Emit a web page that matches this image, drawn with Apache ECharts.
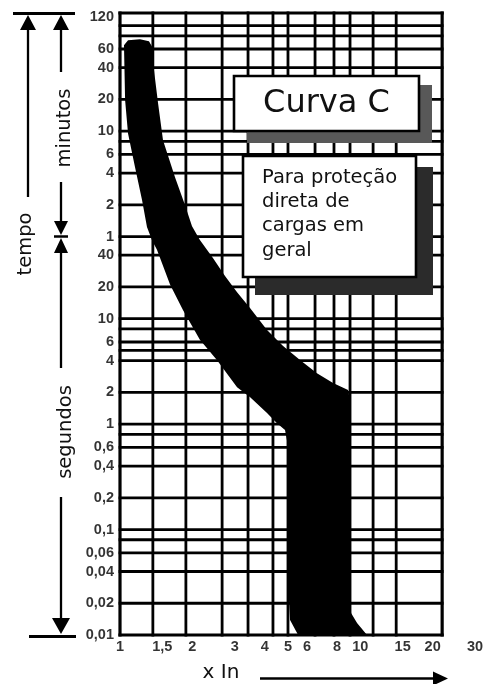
<!DOCTYPE html>
<html>
<head>
<meta charset="utf-8">
<script src="https://cdn.jsdelivr.net/npm/echarts@6.0.0/dist/echarts.min.js"></script>
<style>
  html, body { margin: 0; padding: 0; background: #fff; }
  #chart { width: 488px; height: 684px; }
</style>
</head>
<body>
<div id="chart"></div>
<script>
const FONT = 'DejaVu Sans';
const TICK_FONT = 'Liberation Sans';

// Current as multiple of rated current (x In), labelled under the grid
const xTickValues = [1, 1.5, 2, 3, 4, 5, 6, 8, 10, 15, 20, 30];
const xTickLabels = ['1', '1,5', '2', '3', '4', '5', '6', '8', '10', '15', '20', '30'];

// Time ticks in seconds; values from 60 s upward are written in minutes
const yTickValues = [7200, 3600, 2400, 1200, 600, 360, 240, 120, 60, 40, 20, 10, 6, 4, 2, 1,
                     0.6, 0.4, 0.2, 0.1, 0.06, 0.04, 0.02, 0.01];
const yTickLabels = ['120', '60', '40', '20', '10', '6', '4', '2', '1', '40', '20', '10', '6', '4', '2', '1',
                     '0,6', '0,4', '0,2', '0,1', '0,06', '0,04', '0,02', '0,01'];

// Rulings of the chart paper
const gridXValues = [1, 1.37, 1.88, 2.66, 3.41, 4.33, 5, 6.48, 7.77, 9.06, 11.3, 14.1, 21.9];
const gridYValues = [0.01, 0.02, 0.04, 0.06, 0.08, 0.1, 0.2, 0.4, 0.6, 0.8, 1, 2, 4, 5, 6, 8, 10, 20, 40,
                     60, 120, 240, 360, 480, 600, 1200, 2400, 3600, 4800, 6000, 7900];

// Tripping band of curve C: fast (lower-left) edge, top to bottom
const bandFastEdge = [
  [1.04, 3500], [1.05, 1180], [1.08, 570], [1.155, 273], [1.235, 133], [1.295, 74],
  [1.36, 55], [1.425, 45], [1.615, 21], [1.83, 12], [2.15, 6.3], [2.53, 4.05],
  [3.07, 2.24], [3.48, 1.8], [4.09, 1.27], [4.5, 1.02], [4.86, 0.88], [4.95, 0.7],
  [5.0, 0.033], [5.1, 0.0139], [5.51, 0.01]
];
// slow (upper-right) edge, bottom to top
const bandSlowEdge = [
  [10.66, 0.01], [9.69, 0.013], [9.15, 0.0162], [9.06, 0.0267], [9.06, 1.69], [8.89, 2.1],
  [7.7, 2.45], [6.6, 3.04], [5.61, 4.05], [4.77, 5.49], [4.09, 7.78], [3.475, 12.6],
  [3.07, 17.8], [2.735, 25.3], [2.44, 37.4], [2.15, 55.5], [1.994, 75.3], [1.865, 119],
  [1.694, 219], [1.51, 492], [1.44, 1104], [1.385, 2266], [1.372, 3664], [1.32, 4270],
  [1.211, 4460], [1.08, 4365], [1.039, 3910]
];

const X_MIN = 1, X_MAX = 30, X_EDGE = 21.9;
const Y_MIN = 0.01, Y_MAX = 7900;

const boxLines = ['Para proteção', 'direta de', 'cargas em', 'geral'];

const chart = echarts.init(document.getElementById('chart'), null, { renderer: 'canvas' });

const txt = (text, x, y, size, extra) => Object.assign({
  type: 'text', z: 100, x: x, y: y,
  style: { text: text, fill: '#111', font: size + 'px "' + FONT + '"', align: 'center', verticalAlign: 'middle' }
}, extra || {});
const seg = (x1, y1, x2, y2, w) => ({
  type: 'line', z: 100, shape: { x1, y1, x2, y2 }, style: { stroke: '#000', lineWidth: w || 2.3 }
});
const tri = (pts) => ({ type: 'polygon', z: 100, shape: { points: pts }, style: { fill: '#000' } });

const graphics = [
  // caption boxes with drop shadows
  { type: 'rect', z: 100, shape: { x: 247, y: 85, width: 185, height: 58 }, style: { fill: '#585858' } },
  { type: 'rect', z: 101, shape: { x: 234, y: 76, width: 185, height: 55 }, style: { fill: '#fff', stroke: '#000', lineWidth: 2.6 } },
  txt('Curva C', 326.5, 104, 32, { z: 102 }),
  { type: 'rect', z: 100, shape: { x: 255, y: 167, width: 178, height: 128 }, style: { fill: '#2b2b2b' } },
  { type: 'rect', z: 101, shape: { x: 243, y: 156, width: 173, height: 121 }, style: { fill: '#fff', stroke: '#000', lineWidth: 2.6 } },
  // horizontal axis caption and arrow
  txt('x In', 221, 673, 20),
  seg(260, 678.5, 436, 678.5, 2.6),
  tri([[433, 671.5], [448, 678.5], [433, 685.5]]),
  // time range markers on the left
  seg(13, 13.5, 75, 13.5, 3),
  seg(29, 636.5, 76, 636.5, 3),
  tri([[28, 15], [20, 30], [36, 30]]),
  seg(28, 29, 28, 197),
  txt('tempo', 26, 244, 19.5, { rotation: Math.PI / 2 }),
  tri([[61, 15], [53, 30], [69, 30]]),
  seg(61, 29, 61, 72),
  txt('minutos', 65, 128, 19.5, { rotation: Math.PI / 2 }),
  seg(61, 182, 61, 222),
  tri([[54, 221], [68, 221], [61, 235]]),
  seg(54, 236.5, 68, 236.5, 2.5),
  tri([[61, 238], [54, 253], [68, 253]]),
  seg(61, 252, 61, 368),
  txt('segundos', 66, 432, 19.5, { rotation: Math.PI / 2 }),
  seg(61, 497, 61, 620),
  tri([[52, 618], [70, 618], [61, 634]])
];
boxLines.forEach((line, i) => {
  graphics.push(txt(line, 262, 178 + i * 24.2, 19.5, {
    z: 102, style: { text: line, fill: '#111', font: '19.5px "' + FONT + '"', align: 'left', verticalAlign: 'middle' }
  }));
});

const tickLabel = {
  show: true, color: '#000', fontFamily: TICK_FONT, fontWeight: 'bold', fontSize: 14.5
};

const option = {
  animation: false,
  backgroundColor: '#fff',
  textStyle: { fontFamily: FONT },
  grid: { left: 120, right: 13, top: 13, bottom: 49, outerBoundsMode: 'none' },
  xAxis: { type: 'log', logBase: 10, min: X_MIN, max: X_MAX, show: false },
  yAxis: { type: 'log', logBase: 10, min: Y_MIN, max: Y_MAX, show: false },
  graphic: { elements: graphics },
  series: [
    {
      name: 'rulings-h', type: 'custom', z: 1,
      data: gridYValues.map(v => [X_EDGE, v]),
      renderItem: (params, api) => {
        const v = api.value(1);
        const a = api.coord([X_MIN, v]);
        const b = api.coord([X_EDGE, v]);
        const edge = (v === Y_MIN || v === Y_MAX);
        return {
          type: 'line', shape: { x1: a[0], y1: a[1], x2: b[0], y2: b[1] },
          style: { stroke: '#000', lineWidth: edge ? 3.2 : 2.8, lineCap: 'square' }
        };
      }
    },
    {
      name: 'rulings-v', type: 'custom', z: 1,
      data: gridXValues.map(v => [v, Y_MIN]),
      renderItem: (params, api) => {
        const v = api.value(0);
        const a = api.coord([v, Y_MIN]);
        const b = api.coord([v, Y_MAX]);
        const edge = (v === X_MIN || v === X_EDGE);
        return {
          type: 'line', shape: { x1: a[0], y1: a[1], x2: b[0], y2: b[1] },
          style: { stroke: '#000', lineWidth: edge ? 3.2 : 2.8, lineCap: 'square' }
        };
      }
    },
    {
      name: 'Curva C', type: 'custom', z: 3,
      data: [[X_MIN, Y_MIN]],
      renderItem: (params, api) => {
        const pts = bandFastEdge.concat(bandSlowEdge).map(p => api.coord(p));
        return { type: 'polygon', shape: { points: pts }, style: { fill: '#000' } };
      }
    },
    {
      name: 'time-ticks', type: 'scatter', z: 4, clip: false, silent: true,
      symbolSize: 1, itemStyle: { color: 'rgba(0,0,0,0)' },
      data: yTickValues.map(v => [X_MIN, v]),
      label: Object.assign({}, tickLabel, {
        position: 'left', distance: 5.5,
        formatter: p => yTickLabels[p.dataIndex]
      })
    },
    {
      name: 'current-ticks', type: 'scatter', z: 4, clip: false, silent: true,
      symbolSize: 1, itemStyle: { color: 'rgba(0,0,0,0)' },
      data: xTickValues.map(v => [v, Y_MIN]),
      label: Object.assign({}, tickLabel, {
        position: 'bottom', distance: 4,
        formatter: p => xTickLabels[p.dataIndex]
      })
    }
  ]
};

chart.setOption(option);
</script>
</body>
</html>
